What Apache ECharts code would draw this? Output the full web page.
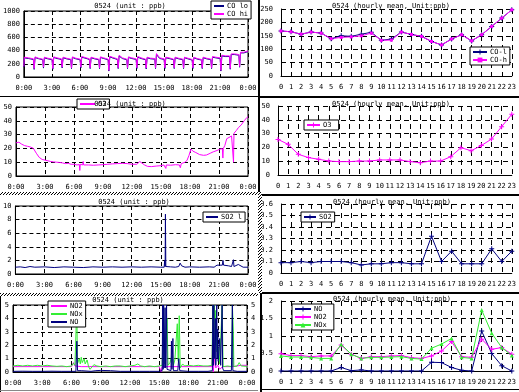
<!DOCTYPE html>
<html><head><meta charset="utf-8">
<script src="https://cdn.jsdelivr.net/npm/echarts@6/dist/echarts.min.js"></script>
<style>html,body{margin:0;padding:0;background:#fff}#c{width:519px;height:392px}</style>
</head><body><div id="c"></div>
<script>
// ---------- DATA ----------
const hourCats = ['0','1','2','3','4','5','6','7','8','9','10','11','12','13','14','15','16','17','18','19','20','21','22','23'];
const timeTickLabels = ['0:00','3:00','6:00','9:00','12:00','15:00','18:00','21:00','0:00'];
const leftTitle = '0524 (unit : ppb)';
const rightTitle = '0524 (hourly mean, Unit:ppb)';

// CO 1-min (hours, ppb)
const coT = [0,0.05,0.5, 1.02,1.1,1.2,1.55, 2.02,2.1,2.2,2.55, 3.02,3.1,3.2,3.55, 4.02,4.1,4.2,4.55, 5.02,5.1,5.2,5.55, 6.02,6.1,6.2,6.55, 7.02,7.1,7.2,7.55, 8.02,8.1,8.2,8.55, 9.02,9.1,9.2,9.55, 10.02,10.1,10.2,10.55, 11.02,11.1,11.2,11.55, 12.02,12.1,12.2,12.55, 13.02,13.1,13.2,13.55, 14.02,14.1,14.2,14.55, 15.02,15.1,15.2,15.55, 16.02,16.1,16.2,16.55, 17.02,17.1,17.2,17.55, 18.02,18.1,18.2,18.55, 19.02,19.1,19.2,19.55, 20.02,20.1,20.2,20.55, 21.02,21.1,21.2,21.55, 22.02,22.1,22.2,22.55, 23.02,23.1,23.2,23.55, 24];
const coHi1m = [160,300,290, 275,130,305,285, 270,150,300,285, 270,130,305,290, 275,150,300,285, 270,140,305,285, 270,150,310,295, 275,140,300,285, 270,140,305,290, 270,100,315,295, 275,140,330,290, 270,140,305,290, 275,140,310,290, 270,135,300,285, 280,140,355,290, 275,140,300,290, 270,140,300,285, 270,140,300,285, 265,140,300,280, 265,140,300,285, 270,140,310,300, 290,100,330,320, 320,130,350,350, 340,160,375,375, 395];
const coLo1m = [150,290,280, 265,115,295,278, 262,135,290,276, 262,118,296,280, 266,138,292,276, 262,128,296,276, 262,138,300,286, 266,128,292,276, 262,128,296,280, 262,90,305,286, 266,128,318,280, 262,128,296,280, 266,128,300,280, 262,122,292,276, 270,128,340,280, 266,128,292,280, 262,128,292,276, 262,128,292,276, 256,128,292,272, 256,128,292,276, 262,128,300,290, 280,90,320,310, 310,118,340,340, 330,148,365,365, 385];

// CO hourly
const coLHourly = [168,165,156,164,160,139,150,148,156,163,133,138,164,155,148,129,116,138,154,131,154,185,216,247];
const coHHourly = [168,165,156,164,160,139,144,146,150,160,133,134,164,155,148,129,116,138,154,131,154,185,216,247];

// O3 1-min [hour, ppb]
const o3_1m = [[0,24],[0.3,24.5],[0.6,23],[0.9,22],[1.2,21.5],[1.5,21],[1.8,20],[2.1,16.5],[2.4,13.5],[2.7,12],[3.0,11.5],[3.3,11],[3.6,10.5],[3.9,10.2],[4.2,10],[4.5,9.8],[4.8,9.5],[5.1,9],[5.4,9.2],[5.7,8.5],[6.0,8.5],[6.3,8],[6.55,8.3],[6.6,4],[6.65,8.5],[6.9,8],[6.95,10.5],[7.0,8],[7.5,8],[8,7.8],[8.5,8],[9,8.2],[9.5,8.5],[10,8.8],[10.5,9],[11,9.2],[11.5,9],[12,8.5],[12.2,8],[12.5,8.5],[12.8,10.5],[13.0,10],[13.3,8],[13.6,7],[14,6.8],[14.5,7.2],[15,7.5],[15.3,8],[15.5,5.5],[15.55,8],[16,7.8],[16.5,8.2],[16.9,8],[17.0,6],[17.1,9],[17.3,8],[17.5,10],[17.7,11.5],[17.9,15],[18.1,19.5],[18.3,18],[18.6,17],[19,15.5],[19.4,15],[19.7,15.2],[20.1,16.5],[20.4,17.5],[20.8,18.5],[21.1,19.5],[21.35,19.8],[21.4,13],[21.45,20],[21.6,22],[21.8,27],[22.0,28],[22.3,29],[22.45,30],[22.5,10],[22.55,31],[22.8,33],[23.0,35],[23.3,37],[23.6,40],[23.9,42.5],[24,43]];
const o3Hourly = [25.8,22.2,15,12.6,11.4,10.1,9.7,9.7,10.1,10.1,10.9,10.9,10.9,9.7,8.9,10.1,10.1,13.3,19.8,17.6,21.3,26,35,44];

// SO2 1-min [hour, ppb]
const so2_1m = [[0,1.0],[0.5,1.05],[1,0.95],[1.5,1.1],[2,1.0],[3,1.05],[4,0.95],[5,1.05],[6,1.0],[7,0.95],[8,1.05],[9,1.0],[10,1.05],[11,1.0],[12,1.05],[13,1.0],[14,1.05],[15,1.0],[15.35,1.0],[15.4,2.0],[15.45,1.1],[15.48,8.8],[15.52,1.1],[16,1.05],[16.5,1.0],[16.85,1.1],[17.0,1.6],[17.15,1.2],[17.5,1.0],[18,1.05],[19,1.0],[20,1.05],[20.5,1.0],[20.8,1.3],[21.0,1.2],[21.35,1.3],[21.42,2.0],[21.48,1.3],[22.0,1.2],[22.3,1.1],[22.5,2.1],[22.55,1.1],[23.0,1.4],[23.2,1.2],[23.5,1.0],[24,1.0]];
const so2Hourly = [0.09,0.09,0.1,0.09,0.1,0.1,0.1,0.09,0.07,0.08,0.08,0.09,0.09,0.08,0.08,0.32,0.1,0.19,0.08,0.08,0.08,0.21,0.1,0.19];

// NO / NO2 / NOx 1-min [hour, ppb]
const no2_1m = [[0,0.4],[3,0.4],[6,0.4],[6.2,0.7],[6.35,0.45],[7,0.4],[12,0.4],[15,0.4],[15.2,0],[15.3,0.4],[17,0.4],[20.4,0.4],[20.45,2],[20.55,0],[20.65,1.2],[20.8,0.3],[21,0.5],[21.2,0.2],[21.5,0.4],[22.5,0.4],[23.4,0.5],[24,0.5]];
const nox_1m = [[0,0.45],[0.5,0.5],[1,0.45],[1.5,0.5],[2,0.45],[2.5,0.5],[3,0.45],[3.5,0.5],[4,0.45],[4.5,0.42],[5,0.45],[5.5,0.4],[6,0.45],[6.2,0.65],[6.35,0.5],[6.5,0.5],[6.55,5],[6.6,0.6],[6.8,1.0],[6.9,0.6],[7.0,1.1],[7.1,0.7],[7.3,1.0],[7.4,0.6],[7.6,0.9],[7.75,0.4],[7.9,0.2],[8.1,0.3],[8.3,0.55],[8.6,0.45],[9,0.4],[9.5,0.45],[10,0.4],[10.5,0.45],[11,0.45],[11.5,0.4],[12,0.45],[12.5,0.5],[12.8,0.6],[13.1,0.45],[13.5,0.4],[14,0.45],[14.5,0.4],[15,0.45],[15.3,0.5],[15.45,4.8],[15.55,0.6],[15.8,4],[15.9,0.5],[16.1,0.7],[16.3,1.2],[16.45,0.5],[16.6,0.9],[16.85,3.6],[16.95,0.8],[17.05,4.2],[17.15,0.3],[17.4,0.6],[17.6,0.45],[18,0.5],[18.5,0.45],[19,0.5],[19.5,0.45],[20,0.45],[20.4,0.5],[20.5,5],[20.58,1],[20.65,5],[20.75,2],[20.8,4.6],[20.9,1.5],[20.95,2.5],[21.05,1.2],[21.1,1.8],[21.2,0.6],[21.45,5],[21.55,0.4],[22,0.45],[22.45,0.4],[22.5,5],[22.6,3],[22.65,0.4],[23,0.45],[23.2,0.7],[23.4,0.45],[24,0.42]];
const no_1m = [[0,0.05],[1,0.06],[2,0.05],[3,0.05],[4,0.06],[5,0.05],[6,0.05],[6.45,0.05],[6.55,2.3],[6.62,0.1],[7,0.1],[8,0.05],[8.5,0.1],[9,0.12],[10,0.1],[11,0.05],[12,0.05],[13,0.05],[14,0.05],[15,0.05],[15.3,0.1],[15.35,5],[15.4,0.2],[15.45,5],[15.5,0.3],[15.6,4.8],[15.65,0.3],[15.75,5],[15.8,0.2],[16.0,0.1],[16.2,0.1],[16.25,2.3],[16.3,0.2],[16.4,2.5],[16.45,0.1],[16.9,0.1],[17.0,1.0],[17.1,0.1],[18,0.05],[19,0.05],[20,0.05],[20.45,0.1],[20.5,5],[20.55,0.5],[20.6,5],[20.65,1],[20.75,4],[20.8,0.5],[20.9,5],[20.95,1],[21.0,3.2],[21.05,0.8],[21.2,2.5],[21.3,0.5],[21.45,5],[21.5,0.3],[21.6,0.1],[22.4,0.1],[22.5,5],[22.55,0.1],[23,0.05],[24,0.05]];
const noHourly = [0,0,0,0,0,0,0.1,0.01,0.03,0,0,0,0,0,0,0.25,0.24,0.1,0.02,0,1.14,0.5,0.15,0];
const no2Hourly = [0.49,0.44,0.44,0.41,0.43,0.43,0.74,0.48,0.36,0.41,0.41,0.43,0.44,0.38,0.36,0.43,0.57,0.84,0.41,0.39,0.91,0.62,0.67,0.48];
const noxHourly = [0.43,0.4,0.4,0.39,0.36,0.36,0.76,0.48,0.36,0.39,0.39,0.4,0.41,0.36,0.34,0.65,0.77,0.93,0.39,0.36,1.74,1.08,0.67,0.44];

// ---------- STYLE ----------
const NAVY = '#000080', MAG = '#ff00ff', GRN = '#33ee33';
const FONT = 'DejaVu Sans Mono';
const TS = {fontFamily: FONT, fontSize: 7, color: '#000'};
const PLUS = 'path://M2,0H3V2H5V3H3V5H2V3H0V2H2Z';
const dash = {type: [4, 3], color: '#000', width: 1};

const zip = (t, v) => t.map((x, i) => [x, v[i]]);

const hatch = document.createElement('canvas');
hatch.width = 3; hatch.height = 3;
(function(){const c = hatch.getContext('2d'); c.fillStyle='#fff'; c.fillRect(0,0,3,3); c.fillStyle='#000'; c.fillRect(2,0,1,1); c.fillRect(1,1,1,1); c.fillRect(0,2,1,1);})();
const hatchFill = {type: 'pattern', image: hatch, repeat: 'repeat'};

// grids [left, top, width, height]
const G = [
  [23, 11, 225, 66],   // 0 CO 1m
  [281, 9, 232, 67],   // 1 CO hourly
  [16, 107, 232, 69],  // 2 O3 1m
  [278, 106, 235, 69], // 3 O3 hourly
  [15, 206, 233, 68],  // 4 SO2 1m
  [281, 204, 232, 69], // 5 SO2 hourly
  [13, 305, 234, 67],  // 6 NOx 1m
  [281, 301, 232, 70]  // 7 NOx hourly
];
const leftIdx = [0, 2, 4, 6];
const grid = G.map((g, i) => ({
  left: g[0], top: g[1], width: g[2], height: g[3],
  show: leftIdx.includes(i), borderColor: '#000', borderWidth: 1, backgroundColor: 'transparent'
}));

const xAxis = G.map((g, i) => {
  if (leftIdx.includes(i)) {
    return {gridIndex: i, type: 'value', min: 0, max: 24, interval: 3,
      axisLine: {show: true, lineStyle: {color: '#000'}}, axisTick: {show: false},
      splitLine: {show: true, lineStyle: dash},
      axisLabel: {...TS, margin: 8, formatter: v => timeTickLabels[Math.round(v / 3)]}};
  }
  return {gridIndex: i, type: 'category', data: hourCats, boundaryGap: false,
    axisLine: {show: true, lineStyle: {color: '#000'}}, axisTick: {show: false},
    splitLine: {show: true, interval: 0, lineStyle: {type: [5, 4], color: '#000', width: 1}},
    axisLabel: {...TS, margin: 8, interval: 0}};
});

const yCfg = [
  [0, 1000, 200], [0, 250, 50], [0, 50, 10], [0, 50, 10],
  [0, 10, 2], [0, 0.6, 0.1], [0, 5, 1], [0, 2, 0.5]
];
const yAxis = yCfg.map((c, i) => ({
  gridIndex: i, type: 'value', min: c[0], max: c[1], interval: c[2],
  axisLine: {show: true, lineStyle: {color: '#000'}}, axisTick: {show: false},
  splitLine: {show: true, lineStyle: leftIdx.includes(i) ? dash : {type: [5, 4], color: '#000', width: 1}},
  axisLabel: {...TS, margin: leftIdx.includes(i) ? 4 : 8, formatter: v => String(v)}
}));
yAxis.push({gridIndex: 6, type: 'value', position: 'right', min: 0, max: 5, interval: 1,
  axisLine: {show: false}, axisTick: {show: false}, splitLine: {show: false},
  axisLabel: {...TS, margin: 4, formatter: v => String(v)}});

const L = (name, xi, yi, data, color, extra) => Object.assign({
  name, type: 'line', xAxisIndex: xi, yAxisIndex: yi, data,
  symbol: 'none', animation: false, lineStyle: {width: 1, color}, itemStyle: {color}
}, extra || {});
const M = (sym, size) => ({symbol: sym, symbolSize: size, showSymbol: true});

const series = [
  L('CO lo', 0, 0, zip(coT, coLo1m), NAVY),
  L('CO hi', 0, 0, zip(coT, coHi1m), MAG),
  L('CO-l', 1, 1, coLHourly, NAVY, M(PLUS, 5)),
  L('CO-h', 1, 1, coHHourly, MAG, M('rect', 3)),
  L('O3', 2, 2, o3_1m, MAG),
  L('O3 ', 3, 3, o3Hourly, MAG, M(PLUS, 5)),
  L('SO2 l', 4, 4, so2_1m, NAVY),
  L('SO2', 5, 5, so2Hourly, NAVY, M(PLUS, 5)),
  L('NO2', 6, 6, no2_1m, MAG),
  L('NOx', 6, 6, nox_1m, GRN),
  L('NO', 6, 6, no_1m, NAVY),
  L('NO ', 7, 7, noHourly, NAVY, M(PLUS, 5)),
  L('NO2 ', 7, 7, no2Hourly, MAG, M(PLUS, 5)),
  L('NOx ', 7, 7, noxHourly, GRN, M('triangle', 4))
];

const lg = (data, left, top, iw, plain) => {
  const o = {
    data, left, top, orient: 'vertical', backgroundColor: '#fff',
    borderColor: '#000', borderWidth: 1, padding: [1, 3, 1, 2], itemGap: 0,
    itemWidth: iw, itemHeight: 6, selectedMode: false,
    textStyle: {...TS, fontSize: 7, lineHeight: 8, padding: [0, 0, 0, -2]}
  };
  if (plain) o.itemStyle = {opacity: 0};
  return o;
};
const legend = [
  lg(['CO lo', 'CO hi'], 211, 1, 10, true),
  lg(['CO-l', 'CO-h'], 470, 47, 14),
  lg(['O3'], 77, 99, 15, true),
  lg(['O3 '], 304, 120, 13),
  lg(['SO2 l'], 203, 212, 12, true),
  lg(['SO2'], 301, 212, 12),
  lg(['NO2', 'NOx', 'NO'], 48, 301, 16, true),
  lg(['NO ', 'NO2 ', 'NOx '], 292, 304, 16)
];

const T = (text, x, y) => ({type: 'text', x, y, z: 100, silent: true,
  style: {text, fill: '#000', font: '7px "' + FONT + '"', textAlign: 'center', textVerticalAlign: 'middle'}});
const R = (x, y, w, h, fill) => ({type: 'rect', shape: {x, y, width: w, height: h}, z: 90, silent: true, style: {fill}});

const graphic = [
  T(leftTitle, 130, 6), T(rightTitle, 391, 6),
  T(leftTitle, 130, 104), T(rightTitle, 391, 104),
  T(leftTitle, 134, 202), T(rightTitle, 392, 202),
  T(leftTitle, 128, 300), T(rightTitle, 392, 299),
  R(258, 0, 2, 192, '#000'),
  R(258, 192, 4, 101, hatchFill),
  R(260, 293, 2, 99, '#000'),
  R(0, 96, 258, 1, '#000'),
  R(260, 96, 259, 2, '#000'),
  R(0, 192, 258, 3, hatchFill),
  R(262, 194, 257, 2, '#000'),
  R(0, 293, 258, 3, hatchFill),
  R(262, 292, 257, 2, '#000'),
  R(262, 389, 257, 1, '#000'),
  R(0, 296, 1, 96, '#000'),
  R(0, 390, 258, 1, '#888')
];

const chart = echarts.init(document.getElementById('c'), null, {renderer: 'canvas'});
chart.setOption({animation: false, backgroundColor: '#fff', grid, xAxis, yAxis, series, legend, graphic});
</script></body></html>
